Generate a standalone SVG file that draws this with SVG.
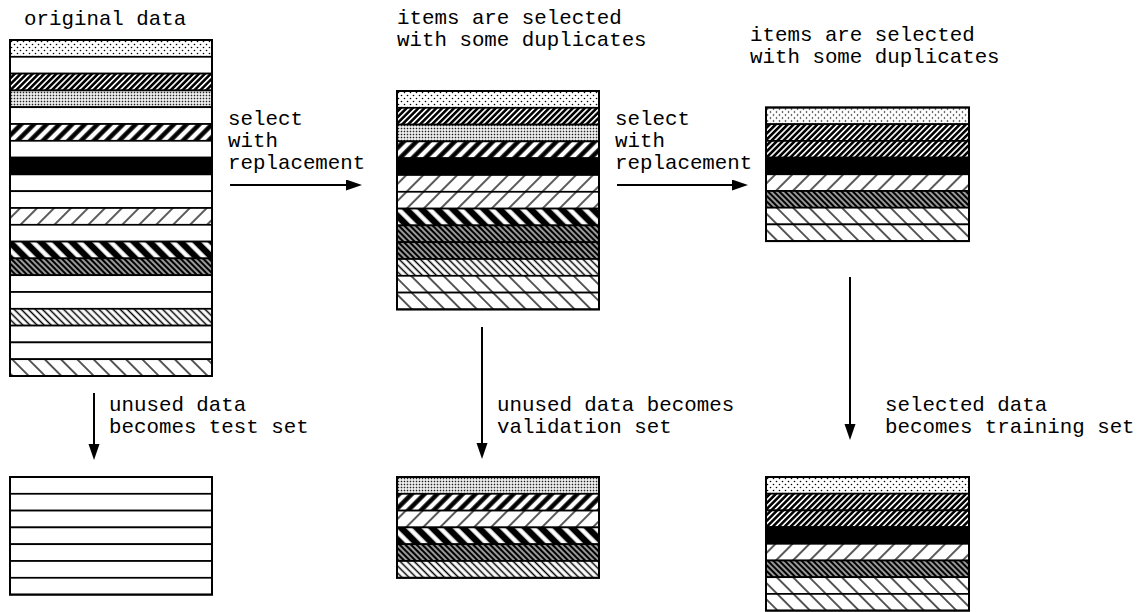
<svg xmlns="http://www.w3.org/2000/svg" width="1147" height="612" viewBox="0 0 1147 612">
  <style>
    .lbl { font-family: "Liberation Mono", "Courier New", monospace; font-size: 20.8px; fill: #000; }
    .row { stroke: #000; stroke-width: 1.7; }
    .frame { fill: none; stroke: #000; stroke-width: 2; }
    .conn { stroke: #000; stroke-width: 2; fill: none; marker-end: url(#head); }
  </style>
  <defs>
    <marker id="head" markerUnits="userSpaceOnUse" markerWidth="17" markerHeight="12" refX="2" refY="5.5" orient="auto">
      <path d="M0,0 L16,5.5 L0,11 Z" fill="#000"/>
    </marker>
    <!-- sparse dot stipple -->
    <pattern id="p-dots" patternUnits="userSpaceOnUse" width="6" height="6">
      <rect width="6" height="6" fill="#fff"/>
      <circle cx="1.5" cy="1.5" r="0.8" fill="#000"/>
      <circle cx="4.5" cy="4.5" r="0.8" fill="#000"/>
    </pattern>
    <!-- dense grey stipple -->
    <pattern id="p-grey" patternUnits="userSpaceOnUse" width="3" height="3">
      <rect width="3" height="3" fill="#fff"/>
      <rect x="0.7" y="0.7" width="1.6" height="1.6" fill="#222"/>
    </pattern>
    <!-- forward hatches (/) -->
    <pattern id="p-fwd-dense" patternUnits="userSpaceOnUse" width="4.2" height="4.2" patternTransform="rotate(45)">
      <rect width="4.2" height="4.2" fill="#fff"/>
      <line x1="2.1" y1="0" x2="2.1" y2="4.2" stroke="#000" stroke-width="2.6"/>
    </pattern>
    <pattern id="p-fwd-wide" patternUnits="userSpaceOnUse" width="9" height="9" patternTransform="rotate(45)">
      <rect width="9" height="9" fill="#fff"/>
      <line x1="4.5" y1="0" x2="4.5" y2="9" stroke="#000" stroke-width="4.5"/>
    </pattern>
    <pattern id="p-fwd-light" patternUnits="userSpaceOnUse" width="12" height="12" patternTransform="rotate(45)">
      <rect width="12" height="12" fill="#fff"/>
      <line x1="6" y1="0" x2="6" y2="12" stroke="#000" stroke-width="1.3"/>
    </pattern>
    <!-- backward hatches (\) -->
    <pattern id="p-bk-wide" patternUnits="userSpaceOnUse" width="11" height="11" patternTransform="rotate(-45)">
      <rect width="11" height="11" fill="#000"/>
      <line x1="5.5" y1="0" x2="5.5" y2="11" stroke="#fff" stroke-width="4.5"/>
    </pattern>
    <pattern id="p-bk-dense" patternUnits="userSpaceOnUse" width="4" height="4" patternTransform="rotate(-45)">
      <rect width="4" height="4" fill="#fff"/>
      <line x1="2" y1="0" x2="2" y2="4" stroke="#000" stroke-width="2.8"/>
    </pattern>
    <pattern id="p-bk-med" patternUnits="userSpaceOnUse" width="5" height="5" patternTransform="rotate(-45)">
      <rect width="5" height="5" fill="#fff"/>
      <line x1="2.5" y1="0" x2="2.5" y2="5" stroke="#000" stroke-width="1.5"/>
    </pattern>
    <pattern id="p-bk-light" patternUnits="userSpaceOnUse" width="11.5" height="11.5" patternTransform="rotate(-45)">
      <rect width="11.5" height="11.5" fill="#fff"/>
      <line x1="5.75" y1="0" x2="5.75" y2="11.5" stroke="#000" stroke-width="1.3"/>
    </pattern>
  </defs>

  <rect width="1147" height="612" fill="#fff"/>

  <!-- original data: 20 rows -->
  <g id="original-data" transform="translate(10,40)">
    <rect class="row" x="0" y="0" width="202" height="16.8" fill="url(#p-dots)"/>
    <rect class="row" x="0" y="16.8" width="202" height="16.8" fill="#fff"/>
    <rect class="row" x="0" y="33.6" width="202" height="16.8" fill="url(#p-fwd-dense)"/>
    <rect class="row" x="0" y="50.4" width="202" height="16.8" fill="url(#p-grey)"/>
    <rect class="row" x="0" y="67.2" width="202" height="16.8" fill="#fff"/>
    <rect class="row" x="0" y="84" width="202" height="16.8" fill="url(#p-fwd-wide)"/>
    <rect class="row" x="0" y="100.8" width="202" height="16.8" fill="#fff"/>
    <rect class="row" x="0" y="117.6" width="202" height="16.8" fill="#000"/>
    <rect class="row" x="0" y="134.4" width="202" height="16.8" fill="#fff"/>
    <rect class="row" x="0" y="151.2" width="202" height="16.8" fill="#fff"/>
    <rect class="row" x="0" y="168" width="202" height="16.8" fill="url(#p-fwd-light)"/>
    <rect class="row" x="0" y="184.8" width="202" height="16.8" fill="#fff"/>
    <rect class="row" x="0" y="201.6" width="202" height="16.8" fill="url(#p-bk-wide)"/>
    <rect class="row" x="0" y="218.4" width="202" height="16.8" fill="url(#p-bk-dense)"/>
    <rect class="row" x="0" y="235.2" width="202" height="16.8" fill="#fff"/>
    <rect class="row" x="0" y="252" width="202" height="16.8" fill="#fff"/>
    <rect class="row" x="0" y="268.8" width="202" height="16.8" fill="url(#p-bk-med)"/>
    <rect class="row" x="0" y="285.6" width="202" height="16.8" fill="#fff"/>
    <rect class="row" x="0" y="302.4" width="202" height="16.8" fill="#fff"/>
    <rect class="row" x="0" y="319.2" width="202" height="16.8" fill="url(#p-bk-light)"/>
    <rect class="frame" x="0" y="0" width="202" height="336"/>
  </g>

  <!-- first bootstrap sample: 13 rows -->
  <g id="sample-one" transform="translate(397,91)">
    <rect class="row" x="0" y="0" width="202" height="16.8" fill="url(#p-dots)"/>
    <rect class="row" x="0" y="16.8" width="202" height="16.8" fill="url(#p-fwd-dense)"/>
    <rect class="row" x="0" y="33.6" width="202" height="16.8" fill="url(#p-grey)"/>
    <rect class="row" x="0" y="50.4" width="202" height="16.8" fill="url(#p-fwd-wide)"/>
    <rect class="row" x="0" y="67.2" width="202" height="16.8" fill="#000"/>
    <rect class="row" x="0" y="84" width="202" height="16.8" fill="url(#p-fwd-light)"/>
    <rect class="row" x="0" y="100.8" width="202" height="16.8" fill="url(#p-fwd-light)"/>
    <rect class="row" x="0" y="117.6" width="202" height="16.8" fill="url(#p-bk-wide)"/>
    <rect class="row" x="0" y="134.4" width="202" height="16.8" fill="url(#p-bk-dense)"/>
    <rect class="row" x="0" y="151.2" width="202" height="16.8" fill="url(#p-bk-dense)"/>
    <rect class="row" x="0" y="168" width="202" height="16.8" fill="url(#p-bk-med)"/>
    <rect class="row" x="0" y="184.8" width="202" height="16.8" fill="url(#p-bk-light)"/>
    <rect class="row" x="0" y="201.6" width="202" height="16.8" fill="url(#p-bk-light)"/>
    <rect class="frame" x="0" y="0" width="202" height="218.4"/>
  </g>

  <!-- second bootstrap sample: 8 rows -->
  <g id="sample-two" transform="translate(766,107.5)">
    <rect class="row" x="0" y="0" width="203" height="16.7" fill="url(#p-dots)"/>
    <rect class="row" x="0" y="16.7" width="203" height="16.7" fill="url(#p-fwd-dense)"/>
    <rect class="row" x="0" y="33.4" width="203" height="16.7" fill="url(#p-fwd-dense)"/>
    <rect class="row" x="0" y="50.1" width="203" height="16.7" fill="#000"/>
    <rect class="row" x="0" y="66.8" width="203" height="16.7" fill="url(#p-fwd-light)"/>
    <rect class="row" x="0" y="83.5" width="203" height="16.7" fill="url(#p-bk-dense)"/>
    <rect class="row" x="0" y="100.2" width="203" height="16.7" fill="url(#p-bk-light)"/>
    <rect class="row" x="0" y="116.9" width="203" height="16.7" fill="url(#p-bk-light)"/>
    <rect class="frame" x="0" y="0" width="203" height="133.6"/>
  </g>

  <!-- test set: 7 empty rows -->
  <g id="test-set" transform="translate(10,477)">
    <rect class="row" x="0" y="0" width="202" height="16.8" fill="#fff" stroke-width="2.4"/>
    <rect class="row" x="0" y="16.8" width="202" height="16.8" fill="#fff" stroke-width="2.4"/>
    <rect class="row" x="0" y="33.6" width="202" height="16.8" fill="#fff" stroke-width="2.4"/>
    <rect class="row" x="0" y="50.4" width="202" height="16.8" fill="#fff" stroke-width="2.4"/>
    <rect class="row" x="0" y="67.2" width="202" height="16.8" fill="#fff" stroke-width="2.4"/>
    <rect class="row" x="0" y="84" width="202" height="16.8" fill="#fff" stroke-width="2.4"/>
    <rect class="row" x="0" y="100.8" width="202" height="16.8" fill="#fff"/>
    <rect class="frame" x="0" y="0" width="202" height="117.6"/>
  </g>

  <!-- validation set: 6 rows -->
  <g id="validation-set" transform="translate(397,477)">
    <rect class="row" x="0" y="0" width="202" height="16.8" fill="url(#p-grey)"/>
    <rect class="row" x="0" y="16.8" width="202" height="16.8" fill="url(#p-fwd-wide)"/>
    <rect class="row" x="0" y="33.6" width="202" height="16.8" fill="url(#p-fwd-light)"/>
    <rect class="row" x="0" y="50.4" width="202" height="16.8" fill="url(#p-bk-wide)"/>
    <rect class="row" x="0" y="67.2" width="202" height="16.8" fill="url(#p-bk-dense)"/>
    <rect class="row" x="0" y="84" width="202" height="16.8" fill="url(#p-bk-med)"/>
    <rect class="frame" x="0" y="0" width="202" height="100.8"/>
  </g>

  <!-- training set: 8 rows -->
  <g id="training-set" transform="translate(766,477)">
    <rect class="row" x="0" y="0" width="203" height="16.7" fill="url(#p-dots)"/>
    <rect class="row" x="0" y="16.7" width="203" height="16.7" fill="url(#p-fwd-dense)"/>
    <rect class="row" x="0" y="33.4" width="203" height="16.7" fill="url(#p-fwd-dense)"/>
    <rect class="row" x="0" y="50.1" width="203" height="16.7" fill="#000"/>
    <rect class="row" x="0" y="66.8" width="203" height="16.7" fill="url(#p-fwd-light)"/>
    <rect class="row" x="0" y="83.5" width="203" height="16.7" fill="url(#p-bk-dense)"/>
    <rect class="row" x="0" y="100.2" width="203" height="16.7" fill="url(#p-bk-light)"/>
    <rect class="row" x="0" y="116.9" width="203" height="16.7" fill="url(#p-bk-light)"/>
    <rect class="frame" x="0" y="0" width="203" height="133.6"/>
  </g>

  <!-- connectors -->
  <g id="connectors">
    <line class="conn" x1="230" y1="185" x2="348" y2="185"/>
    <line class="conn" x1="617" y1="185" x2="734" y2="185"/>
    <line class="conn" x1="94" y1="393" x2="94" y2="446"/>
    <line class="conn" x1="482" y1="327" x2="482" y2="445"/>
    <line class="conn" x1="850" y1="277" x2="850" y2="426"/>
  </g>

  <!-- labels -->
  <g id="labels">
    <text class="lbl" x="24" y="25">original data</text>
    <text class="lbl" x="397" y="24">items are selected</text>
    <text class="lbl" x="397" y="46">with some duplicates</text>
    <text class="lbl" x="750" y="41">items are selected</text>
    <text class="lbl" x="750" y="63">with some duplicates</text>
    <text class="lbl" x="228" y="125">select</text>
    <text class="lbl" x="228" y="147">with</text>
    <text class="lbl" x="228" y="169">replacement</text>
    <text class="lbl" x="615" y="125">select</text>
    <text class="lbl" x="615" y="147">with</text>
    <text class="lbl" x="615" y="169">replacement</text>
    <text class="lbl" x="109" y="411">unused data</text>
    <text class="lbl" x="109" y="433">becomes test set</text>
    <text class="lbl" x="497" y="411">unused data becomes</text>
    <text class="lbl" x="497" y="433">validation set</text>
    <text class="lbl" x="885" y="411">selected data</text>
    <text class="lbl" x="885" y="433">becomes training set</text>
  </g>
</svg>
